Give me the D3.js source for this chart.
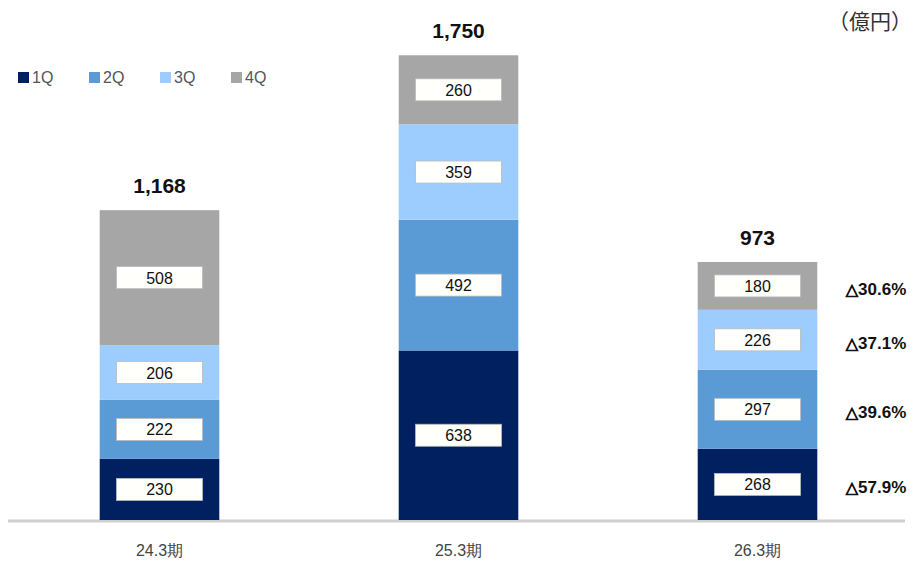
<!DOCTYPE html>
<html>
<head>
<meta charset="utf-8">
<script src="https://cdn.jsdelivr.net/npm/d3@7"></script>
<style>
  body { margin: 0; background: #fff; }
  text { font-family: Arial, "Liberation Sans", sans-serif; }
</style>
</head>
<body>
<svg id="chart"></svg>
<script>
let categories = ['24.3期', '25.3期', '26.3期'];
let quarters = ['1Q', '2Q', '3Q', '4Q'];
let q1 = [230, 638, 268];
let q2 = [222, 492, 297];
let q3 = [206, 359, 226];
let q4 = [508, 260, 180];
let totals = ['1,168', '1,750', '973'];
let changes = ['57.9%', '39.6%', '37.1%', '30.6%'];
let colors = ['#002060', '#5b9bd5', '#9dcdff', '#a6a6a6'];

let width = 919;
let height = 561;

let svg = d3.select('#chart').attr('width', width).attr('height', height);

let x = d3.scaleBand()
  .domain(categories)
  .range([10, 907])
  .paddingInner(0.6)
  .paddingOuter(0.3);

let y = d3.scaleLinear()
  .domain([0, 1750])
  .range([520, 55]);

// build stacked table
let rows = categories.map((c, i) => ({ cat: c, '1Q': q1[i], '2Q': q2[i], '3Q': q3[i], '4Q': q4[i] }));
let stacked = d3.stack().keys(quarters)(rows);

// baseline
svg.append('line')
  .attr('x1', 8).attr('x2', 905)
  .attr('y1', 521).attr('y2', 521)
  .attr('stroke', '#d0d0d0')
  .attr('stroke-width', 3);

let layers = svg.selectAll('g.layer')
  .data(stacked)
  .enter().append('g')
  .attr('class', 'layer')
  .attr('fill', (d, i) => colors[i]);

layers.selectAll('rect')
  .data(d => d)
  .enter().append('rect')
  .attr('x', d => x(d.data.cat))
  .attr('y', d => y(d[1]))
  .attr('width', x.bandwidth())
  .attr('height', d => y(d[0]) - y(d[1]));

// value boxes
let boxW = 86, boxH = 22;
stacked.forEach((layer, li) => {
  layer.forEach(d => {
    let cx = x(d.data.cat) + x.bandwidth() / 2;
    let cy = (y(d[0]) + y(d[1])) / 2;
    svg.append('rect')
      .attr('x', cx - boxW / 2)
      .attr('y', cy - boxH / 2)
      .attr('width', boxW)
      .attr('height', boxH)
      .attr('fill', '#fffffb')
      .attr('stroke', '#bbb')
      .attr('stroke-width', 0.8);
    svg.append('text')
      .attr('x', cx)
      .attr('y', cy + 6)
      .attr('text-anchor', 'middle')
      .attr('font-size', '16px')
      .attr('fill', '#111')
      .text(d.data[layer.key]);
  });
});

// totals
svg.selectAll('text.total')
  .data(categories)
  .enter().append('text')
  .attr('class', 'total')
  .attr('x', d => x(d) + x.bandwidth() / 2)
  .attr('y', (d, i) => y(q1[i] + q2[i] + q3[i] + q4[i]) - 17)
  .attr('text-anchor', 'middle')
  .attr('font-size', '21px')
  .attr('font-weight', 'bold')
  .attr('fill', '#111')
  .text((d, i) => totals[i]);

// YoY change labels beside last bar
let last = categories.length - 1;
stacked.forEach((layer, li) => {
  let d = layer[last];
  let t = svg.append('text')
    .attr('x', 876)
    .attr('y', (y(d[0]) + y(d[1])) / 2 + 9)
    .attr('text-anchor', 'middle')
    .attr('font-size', '17px')
    .attr('font-weight', 'bold')
    .attr('fill', '#111');
  t.append('tspan')
    .style('font-family', '"DejaVu Sans", sans-serif')
    .attr('font-size', '16px')
    .attr('stroke', '#111')
    .attr('stroke-width', 0.8)
    .text('△');
  t.append('tspan').text(changes[li]);
});

// x labels
svg.selectAll('text.xlab')
  .data(categories)
  .enter().append('text')
  .attr('class', 'xlab')
  .attr('x', d => x(d) + x.bandwidth() / 2)
  .attr('y', 556)
  .attr('text-anchor', 'middle')
  .attr('font-size', '16px')
  .attr('fill', '#444')
  .text(d => d);

// legend
let legend = svg.append('g').attr('transform', 'translate(18, 72)');
let item = legend.selectAll('g')
  .data(quarters)
  .enter().append('g')
  .attr('transform', (d, i) => `translate(${i * 71}, 0)`);
item.append('rect')
  .attr('width', 11).attr('height', 11)
  .attr('fill', (d, i) => colors[i]);
item.append('text')
  .attr('x', 14).attr('y', 11)
  .attr('font-size', '16px')
  .attr('fill', '#555')
  .text(d => d);

// unit
svg.append('text')
  .attr('x', 912).attr('y', 29)
  .attr('text-anchor', 'end')
  .attr('font-size', '21px')
  .attr('fill', '#333')
  .style('font-family', '"Noto Sans CJK JP", sans-serif')
  .text('（億円）');
</script>
</body>
</html>
